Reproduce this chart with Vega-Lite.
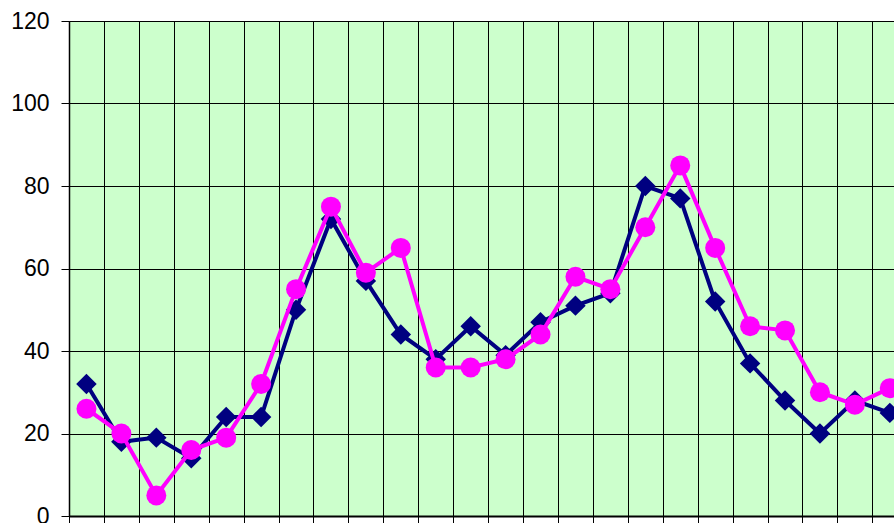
{
  "$schema": "https://vega.github.io/schema/vega-lite/v6.json",
  "width": 825,
  "height": 495,
  "autosize": {"type": "none"},
  "padding": {"left": 69, "top": 21, "right": 0, "bottom": 7},
  "background": "white",
  "config": {
    "view": {"fill": "#CCFFCC", "stroke": "#808080", "strokeWidth": 1},
    "axis": {"labelFont": "Liberation Sans", "labelFontSize": 23, "labelColor": "#000000", "gridColor": "#000000", "gridOpacity": 1, "gridWidth": 1, "domainColor": "#000000", "tickColor": "#000000"}
  },
  "datasets": {
    "d": [
      {"i": 1, "s": "A", "v": 32}, {"i": 2, "s": "A", "v": 18}, {"i": 3, "s": "A", "v": 19}, {"i": 4, "s": "A", "v": 14},
      {"i": 5, "s": "A", "v": 24}, {"i": 6, "s": "A", "v": 24}, {"i": 7, "s": "A", "v": 50}, {"i": 8, "s": "A", "v": 72},
      {"i": 9, "s": "A", "v": 57}, {"i": 10, "s": "A", "v": 44}, {"i": 11, "s": "A", "v": 38}, {"i": 12, "s": "A", "v": 46},
      {"i": 13, "s": "A", "v": 39}, {"i": 14, "s": "A", "v": 47}, {"i": 15, "s": "A", "v": 51}, {"i": 16, "s": "A", "v": 54},
      {"i": 17, "s": "A", "v": 80}, {"i": 18, "s": "A", "v": 77}, {"i": 19, "s": "A", "v": 52}, {"i": 20, "s": "A", "v": 37},
      {"i": 21, "s": "A", "v": 28}, {"i": 22, "s": "A", "v": 20}, {"i": 23, "s": "A", "v": 28}, {"i": 24, "s": "A", "v": 25},
      {"i": 1, "s": "B", "v": 26}, {"i": 2, "s": "B", "v": 20}, {"i": 3, "s": "B", "v": 5}, {"i": 4, "s": "B", "v": 16},
      {"i": 5, "s": "B", "v": 19}, {"i": 6, "s": "B", "v": 32}, {"i": 7, "s": "B", "v": 55}, {"i": 8, "s": "B", "v": 75},
      {"i": 9, "s": "B", "v": 59}, {"i": 10, "s": "B", "v": 65}, {"i": 11, "s": "B", "v": 36}, {"i": 12, "s": "B", "v": 36},
      {"i": 13, "s": "B", "v": 38}, {"i": 14, "s": "B", "v": 44}, {"i": 15, "s": "B", "v": 58}, {"i": 16, "s": "B", "v": 55},
      {"i": 17, "s": "B", "v": 70}, {"i": 18, "s": "B", "v": 85}, {"i": 19, "s": "B", "v": 65}, {"i": 20, "s": "B", "v": 46},
      {"i": 21, "s": "B", "v": 45}, {"i": 22, "s": "B", "v": 30}, {"i": 23, "s": "B", "v": 27}, {"i": 24, "s": "B", "v": 31}
    ]
  },
  "data": {"name": "d"},
  "encoding": {
    "x": {
      "field": "i", "type": "quantitative",
      "scale": {"domain": [0.5, 24.12], "nice": false, "zero": false},
      "axis": {"title": null, "labels": false, "values": [0.5,1.5,2.5,3.5,4.5,5.5,6.5,7.5,8.5,9.5,10.5,11.5,12.5,13.5,14.5,15.5,16.5,17.5,18.5,19.5,20.5,21.5,22.5,23.5], "tickSize": 7, "grid": true, "domainWidth": 2}
    },
    "y": {
      "field": "v", "type": "quantitative",
      "scale": {"domain": [0, 120], "nice": false},
      "axis": {"title": null, "values": [0, 20, 40, 60, 80, 100, 120], "tickSize": 8, "labelPadding": 12, "grid": true, "domainWidth": 1.5}
    }
  },
  "layer": [
    {"transform": [{"filter": "datum.s === 'A'"}], "mark": {"type": "line", "color": "#000080", "strokeWidth": 4}, "encoding": {}},
    {"transform": [{"filter": "datum.s === 'A'"}], "mark": {"type": "point", "shape": "diamond", "filled": true, "color": "#000080", "opacity": 1, "size": 420}, "encoding": {}},
    {"transform": [{"filter": "datum.s === 'B'"}], "mark": {"type": "line", "color": "#FF00FF", "strokeWidth": 4}, "encoding": {}},
    {"transform": [{"filter": "datum.s === 'B'"}], "mark": {"type": "point", "shape": "circle", "filled": true, "color": "#FF00FF", "opacity": 1, "size": 400}, "encoding": {}}
  ]
}
